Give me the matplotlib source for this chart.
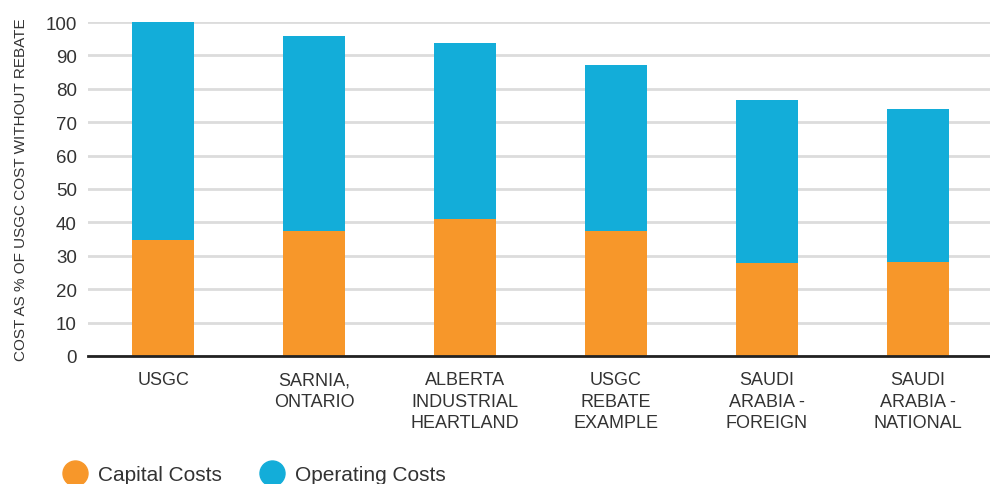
import matplotlib
matplotlib.use("Agg")
from matplotlib import pyplot as plt
from matplotlib.lines import Line2D
import numpy as np

categories = ["USGC", "SARNIA,\nONTARIO", "ALBERTA\nINDUSTRIAL\nHEARTLAND",
              "USGC\nREBATE\nEXAMPLE", "SAUDI\nARABIA -\nFOREIGN", "SAUDI\nARABIA -\nNATIONAL"]
capital = [34.7, 37.4, 41.0, 37.5, 27.9, 28.1]
total = [100.0, 95.8, 93.7, 87.1, 76.7, 74.0]
operating = [t - c for t, c in zip(total, capital)]
yticks = [0, 10, 20, 30, 40, 50, 60, 70, 80, 90, 100]

orange = "#F7972A"
blue = "#13ADD9"
text_c = "#333333"

plt.rcParams['font.family'] = ['Liberation Sans', 'DejaVu Sans']

fig = plt.figure(figsize=(9.9, 4.85), dpi=100)
ax = fig.add_axes([88 / 990, 128 / 485, 905 / 990, (357 - 23) / 485])

x = np.arange(len(categories))
ax.bar(x, capital, width=0.41, color=orange, zorder=3)
ax.bar(x, operating, width=0.41, bottom=capital, color=blue, zorder=3)

ax.set_xlim(-0.5, 5.5)
ax.set_ylim(0, 100)
ax.set_yticks(yticks)
ax.set_xticks(x)
ax.set_xticklabels(categories, fontsize=13, color=text_c, va='top', linespacing=1.35)
ax.tick_params(axis='both', length=0, colors=text_c)
ax.tick_params(axis='y', labelsize=13.5, pad=8)
ax.tick_params(axis='x', pad=11)
ax.grid(axis='y', color='#dcdcdc', linewidth=2, zorder=0)
ax.set_axisbelow(True)
for s in ['top', 'right', 'left']:
    ax.spines[s].set_visible(False)
ax.spines['bottom'].set_linewidth(2)
ax.spines['bottom'].set_color('#222222')
ax.spines['bottom'].set_zorder(4)
ax.set_ylabel("COST AS % OF USGC COST WITHOUT REBATE", fontsize=11, color=text_c)
ax.yaxis.set_label_coords(-0.066, 0.5)

handles = [Line2D([], [], marker='o', linestyle='', markersize=18, color=orange),
           Line2D([], [], marker='o', linestyle='', markersize=18, color=blue)]
fig.legend(handles, ["Capital Costs", "Operating Costs"], loc='lower left',
           bbox_to_anchor=(0.036, -0.039), ncol=2, frameon=False, fontsize=15,
           handletextpad=0.1, columnspacing=1.4, labelcolor=text_c)

fig.savefig("out.png", dpi=100)
